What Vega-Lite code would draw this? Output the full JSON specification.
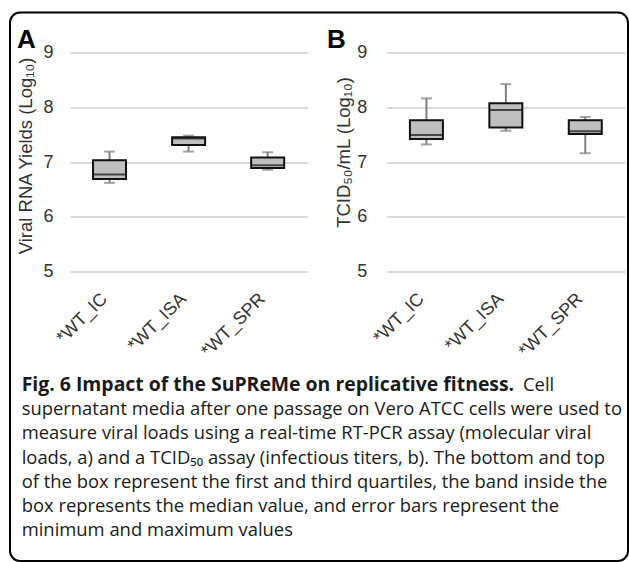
{
  "$schema": "https://vega.github.io/schema/vega-lite/v6.json",
  "width": 618,
  "height": 548.5,
  "autosize": {"type": "none"},
  "padding": {"left": 10, "top": 12.5, "right": 1, "bottom": 1},
  "background": "white",
  "view": {"stroke": "#000000", "strokeWidth": 2, "cornerRadius": 10, "fill": null},
  "datasets": {
    "boxes": [
      {"panel": "A", "group": "*WT_IC", "min": 6.62, "q1": 6.69, "median": 6.77, "q3": 7.03, "max": 7.19},
      {"panel": "A", "group": "*WT_ISA", "min": 7.19, "q1": 7.31, "median": 7.43, "q3": 7.45, "max": 7.48},
      {"panel": "A", "group": "*WT_SPR", "min": 6.86, "q1": 6.89, "median": 6.94, "q3": 7.08, "max": 7.18},
      {"panel": "B", "group": "*WT_IC", "min": 7.32, "q1": 7.42, "median": 7.49, "q3": 7.76, "max": 8.16},
      {"panel": "B", "group": "*WT_ISA", "min": 7.57, "q1": 7.63, "median": 7.95, "q3": 8.07, "max": 8.42},
      {"panel": "B", "group": "*WT_SPR", "min": 7.16, "q1": 7.51, "median": 7.56, "q3": 7.76, "max": 7.82}
    ],
    "caption": [
      {"part": "heading", "line": 0, "text": "Fig. 6 Impact of the SuPReMe on replicative fitness."},
      {"part": "lead", "line": 0, "text": "Cell"},
      {"part": "body", "line": 1, "text": "supernatant media after one passage on Vero ATCC cells were used to"},
      {"part": "body", "line": 2, "text": "measure viral loads using a real-time RT-PCR assay (molecular viral"},
      {"part": "body", "line": 3, "text": "loads, a) and a TCID₅₀ assay (infectious titers, b). The bottom and top"},
      {"part": "body", "line": 4, "text": "of the box represent the first and third quartiles, the band inside the"},
      {"part": "body", "line": 5, "text": "box represents the median value, and error bars represent the"},
      {"part": "body", "line": 6, "text": "minimum and maximum values"}
    ],
    "panels": [{"panel": "A"}, {"panel": "B"}]
  },
  "layer": [
    {
      "data": {"name": "boxes"},
      "transform": [{"filter": "datum.panel === 'A'"}],
      "encoding": {
        "x": {
          "field": "group", "type": "nominal", "sort": null,
          "scale": {"domain": ["*WT_IC", "*WT_ISA", "*WT_SPR"], "range": [60, 297.2], "paddingInner": 0, "paddingOuter": 0},
          "axis": {"orient": "bottom", "offset": -289, "title": null, "labelAngle": -45, "labelBaseline": "middle", "labelAlign": "right", "labelFontSize": 18, "labelColor": "#333333", "domain": false, "ticks": false, "grid": false, "labelPadding": 24, "labelOffset": -5}
        }
      },
      "layer": [
        {
          "mark": {"type": "rule", "color": "#7f7f7f", "strokeWidth": 2},
          "encoding": {
            "y": {"field": "min", "type": "quantitative",
              "scale": {"domain": [5, 9], "range": [259.2, 39.8], "nice": false, "zero": false},
              "axis": {"title": "Viral RNA Yields (Log₁₀)", "orient": "left", "offset": -60, "values": [5, 6, 7, 8, 9], "grid": true, "gridColor": "#d9d9d9", "gridWidth": 2, "domain": false, "ticks": false, "labelPadding": 17, "labelFontSize": 18, "labelColor": "#333333", "titleFontSize": 18.5, "titleFontWeight": "normal", "titleColor": "#333333", "titlePadding": 7, "titleY": 143}},
            "y2": {"field": "max"}
          }
        },
        {
          "mark": {"type": "tick", "color": "#7f7f7f", "thickness": 2, "size": 11},
          "encoding": {"y": {"field": "min", "type": "quantitative", "scale": {"domain": [5, 9], "range": [259.2, 39.8], "nice": false, "zero": false},
              "axis": {"title": "Viral RNA Yields (Log₁₀)", "orient": "left", "offset": -60, "values": [5, 6, 7, 8, 9], "grid": true, "gridColor": "#d9d9d9", "gridWidth": 2, "domain": false, "ticks": false, "labelPadding": 17, "labelFontSize": 18, "labelColor": "#333333", "titleFontSize": 18.5, "titleFontWeight": "normal", "titleColor": "#333333", "titlePadding": 7, "titleY": 143}}}
        },
        {
          "mark": {"type": "tick", "color": "#7f7f7f", "thickness": 2, "size": 11},
          "encoding": {"y": {"field": "max", "type": "quantitative", "scale": {"domain": [5, 9], "range": [259.2, 39.8], "nice": false, "zero": false},
              "axis": {"title": "Viral RNA Yields (Log₁₀)", "orient": "left", "offset": -60, "values": [5, 6, 7, 8, 9], "grid": true, "gridColor": "#d9d9d9", "gridWidth": 2, "domain": false, "ticks": false, "labelPadding": 17, "labelFontSize": 18, "labelColor": "#333333", "titleFontSize": 18.5, "titleFontWeight": "normal", "titleColor": "#333333", "titlePadding": 7, "titleY": 143}}}
        },
        {
          "mark": {"type": "bar", "fill": "#bfbfbf", "stroke": "#111111", "strokeWidth": 2, "size": 33},
          "encoding": {"y": {"field": "q1", "type": "quantitative", "scale": {"domain": [5, 9], "range": [259.2, 39.8], "nice": false, "zero": false},
              "axis": {"title": "Viral RNA Yields (Log₁₀)", "orient": "left", "offset": -60, "values": [5, 6, 7, 8, 9], "grid": true, "gridColor": "#d9d9d9", "gridWidth": 2, "domain": false, "ticks": false, "labelPadding": 17, "labelFontSize": 18, "labelColor": "#333333", "titleFontSize": 18.5, "titleFontWeight": "normal", "titleColor": "#333333", "titlePadding": 7, "titleY": 143}}, "y2": {"field": "q3"}}
        },
        {
          "mark": {"type": "tick", "color": "#111111", "thickness": 2, "size": 33},
          "encoding": {"y": {"field": "median", "type": "quantitative", "scale": {"domain": [5, 9], "range": [259.2, 39.8], "nice": false, "zero": false},
              "axis": {"title": "Viral RNA Yields (Log₁₀)", "orient": "left", "offset": -60, "values": [5, 6, 7, 8, 9], "grid": true, "gridColor": "#d9d9d9", "gridWidth": 2, "domain": false, "ticks": false, "labelPadding": 17, "labelFontSize": 18, "labelColor": "#333333", "titleFontSize": 18.5, "titleFontWeight": "normal", "titleColor": "#333333", "titlePadding": 7, "titleY": 143}}}
        }
      ]
    },
    {
      "data": {"name": "boxes"},
      "transform": [{"filter": "datum.panel === 'B'"}],
      "encoding": {
        "x": {
          "field": "group", "type": "nominal", "sort": null,
          "scale": {"domain": ["*WT_IC", "*WT_ISA", "*WT_SPR"], "range": [376.7, 615], "paddingInner": 0, "paddingOuter": 0},
          "axis": {"orient": "bottom", "offset": -289, "title": null, "labelAngle": -45, "labelBaseline": "middle", "labelAlign": "right", "labelFontSize": 18, "labelColor": "#333333", "domain": false, "ticks": false, "grid": false, "labelPadding": 24, "labelOffset": -5}
        }
      },
      "layer": [
        {
          "mark": {"type": "rule", "color": "#7f7f7f", "strokeWidth": 2},
          "encoding": {
            "y": {"field": "min", "type": "quantitative",
              "scale": {"domain": [5, 9], "range": [259.2, 39.8], "nice": false, "zero": false},
              "axis": {"title": "TCID₅₀/mL (Log₁₀)", "orient": "left", "offset": -376.7, "values": [5, 6, 7, 8, 9], "grid": true, "gridColor": "#d9d9d9", "gridWidth": 2, "domain": false, "ticks": false, "labelPadding": 20, "labelFontSize": 18, "labelColor": "#333333", "titleFontSize": 18.5, "titleFontWeight": "normal", "titleColor": "#333333", "titlePadding": 3, "titleY": 139.5}},
            "y2": {"field": "max"}
          }
        },
        {
          "mark": {"type": "tick", "color": "#7f7f7f", "thickness": 2, "size": 11},
          "encoding": {"y": {"field": "min", "type": "quantitative", "scale": {"domain": [5, 9], "range": [259.2, 39.8], "nice": false, "zero": false},
              "axis": {"title": "TCID₅₀/mL (Log₁₀)", "orient": "left", "offset": -376.7, "values": [5, 6, 7, 8, 9], "grid": true, "gridColor": "#d9d9d9", "gridWidth": 2, "domain": false, "ticks": false, "labelPadding": 20, "labelFontSize": 18, "labelColor": "#333333", "titleFontSize": 18.5, "titleFontWeight": "normal", "titleColor": "#333333", "titlePadding": 3, "titleY": 139.5}}}
        },
        {
          "mark": {"type": "tick", "color": "#7f7f7f", "thickness": 2, "size": 11},
          "encoding": {"y": {"field": "max", "type": "quantitative", "scale": {"domain": [5, 9], "range": [259.2, 39.8], "nice": false, "zero": false},
              "axis": {"title": "TCID₅₀/mL (Log₁₀)", "orient": "left", "offset": -376.7, "values": [5, 6, 7, 8, 9], "grid": true, "gridColor": "#d9d9d9", "gridWidth": 2, "domain": false, "ticks": false, "labelPadding": 20, "labelFontSize": 18, "labelColor": "#333333", "titleFontSize": 18.5, "titleFontWeight": "normal", "titleColor": "#333333", "titlePadding": 3, "titleY": 139.5}}}
        },
        {
          "mark": {"type": "bar", "fill": "#bfbfbf", "stroke": "#111111", "strokeWidth": 2, "size": 33},
          "encoding": {"y": {"field": "q1", "type": "quantitative", "scale": {"domain": [5, 9], "range": [259.2, 39.8], "nice": false, "zero": false},
              "axis": {"title": "TCID₅₀/mL (Log₁₀)", "orient": "left", "offset": -376.7, "values": [5, 6, 7, 8, 9], "grid": true, "gridColor": "#d9d9d9", "gridWidth": 2, "domain": false, "ticks": false, "labelPadding": 20, "labelFontSize": 18, "labelColor": "#333333", "titleFontSize": 18.5, "titleFontWeight": "normal", "titleColor": "#333333", "titlePadding": 3, "titleY": 139.5}}, "y2": {"field": "q3"}}
        },
        {
          "mark": {"type": "tick", "color": "#111111", "thickness": 2, "size": 33},
          "encoding": {"y": {"field": "median", "type": "quantitative", "scale": {"domain": [5, 9], "range": [259.2, 39.8], "nice": false, "zero": false},
              "axis": {"title": "TCID₅₀/mL (Log₁₀)", "orient": "left", "offset": -376.7, "values": [5, 6, 7, 8, 9], "grid": true, "gridColor": "#d9d9d9", "gridWidth": 2, "domain": false, "ticks": false, "labelPadding": 20, "labelFontSize": 18, "labelColor": "#333333", "titleFontSize": 18.5, "titleFontWeight": "normal", "titleColor": "#333333", "titlePadding": 3, "titleY": 139.5}}}
        }
      ]
    },
    {
      "data": {"name": "caption"},
      "transform": [{"filter": "datum.part === 'body'"}],
      "mark": {"type": "text", "align": "left", "baseline": "middle", "font": "Open Sans", "fontSize": 18.4, "color": "#1a1a1a"},
      "encoding": {
        "text": {"field": "text"},
        "x": {"datum": 0, "type": "quantitative", "scale": {"domain": [0, 1], "range": [11.7, 611]}, "axis": null},
        "y": {"field": "line", "type": "ordinal", "scale": {"type": "point", "domain": [0, 1, 2, 3, 4, 5, 6], "range": [372.5, 517.5], "padding": 0}, "axis": null}
      }
    },
    {
      "data": {"name": "caption"},
      "transform": [{"filter": "datum.part === 'heading'"}],
      "mark": {"type": "text", "align": "left", "baseline": "middle", "font": "Open Sans", "fontSize": 19.4, "fontWeight": "bold", "color": "#1a1a1a"},
      "encoding": {
        "text": {"field": "text"},
        "x": {"datum": 0, "type": "quantitative", "scale": {"domain": [0, 1], "range": [11.7, 611]}, "axis": null},
        "y": {"field": "line", "type": "ordinal", "scale": {"type": "point", "domain": [0, 1, 2, 3, 4, 5, 6], "range": [372.5, 517.5], "padding": 0}, "axis": null}
      }
    },
    {
      "data": {"name": "caption"},
      "transform": [{"filter": "datum.part === 'lead'"}],
      "mark": {"type": "text", "align": "left", "baseline": "middle", "font": "Open Sans", "fontSize": 18.4, "color": "#1a1a1a"},
      "encoding": {
        "text": {"field": "text"},
        "x": {"datum": 0.8365, "type": "quantitative", "scale": {"domain": [0, 1], "range": [11.7, 611]}, "axis": null},
        "y": {"field": "line", "type": "ordinal", "scale": {"type": "point", "domain": [0, 1, 2, 3, 4, 5, 6], "range": [372.5, 517.5], "padding": 0}, "axis": null}
      }
    },
    {
      "data": {"name": "panels"},
      "mark": {"type": "text", "align": "left", "baseline": "alphabetic", "font": "Liberation Sans", "fontSize": 26, "fontWeight": "bold", "color": "#000000"},
      "encoding": {
        "text": {"field": "panel"},
        "x": {"field": "panel", "type": "nominal", "scale": {"type": "point", "domain": ["A", "B"], "range": [7, 317], "padding": 0}, "axis": null},
        "y": {"value": 35.5}
      }
    }
  ],
  "resolve": {"scale": {"x": "independent", "y": "independent"}},
  "config": {
    "font": "Liberation Sans",
    "axis": {"labelFont": "Liberation Sans", "titleFont": "Liberation Sans"}
  }
}
